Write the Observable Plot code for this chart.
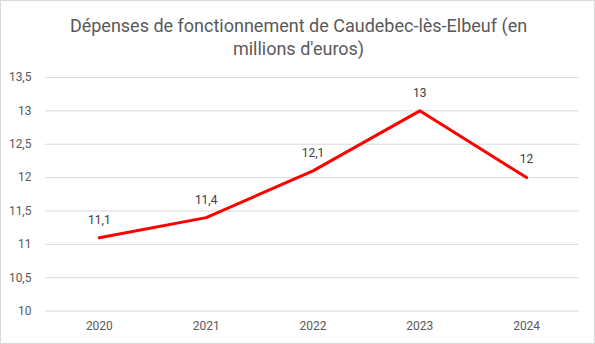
<!DOCTYPE html>
<html>
<head>
<meta charset="utf-8">
<script src="https://cdn.jsdelivr.net/npm/d3@7"></script>
<script src="https://cdn.jsdelivr.net/npm/@observablehq/plot@0.6"></script>
<style>
  html, body { margin: 0; padding: 0; background: #fff; }
  #frame { width: 595px; height: 344px; box-sizing: border-box; border: 1px solid #d9d9d9; position: relative; overflow: hidden; }
  #title { position: absolute; left: 0; top: 13px; width: 595px; text-align: center; font-family: Roboto, "Open Sans", sans-serif; font-size: 18px; line-height: 23px; color: #595959; }
  #chart { position: absolute; left: -1px; top: 64px; }
</style>
</head>
<body>
<div id="frame">
  <div id="title">Dépenses de fonctionnement de Caudebec-lès-Elbeuf (en<br>millions d'euros)</div>
  <div id="chart"></div>
</div>
<script>
const years = ["2020", "2021", "2022", "2023", "2024"];
const values = [11.1, 11.4, 12.1, 13, 12];
const yTicks = [10, 10.5, 11, 11.5, 12, 12.5, 13, 13.5];

const data = years.map((y, i) => ({year: y, value: values[i]}));
const fmt = v => String(v).replace(".", ",");

const chart = Plot.plot({
  width: 595,
  height: 280,
  marginTop: 12,
  marginBottom: 34,
  marginLeft: 45,
  marginRight: 15,
  style: {fontFamily: "Roboto, 'Open Sans', sans-serif", fontSize: "12px", color: "#595959", background: "transparent"},
  x: {type: "point", domain: years, padding: 0.5, label: null, tickSize: 0, tickPadding: 10},
  y: {domain: [10, 13.5], ticks: yTicks, label: null, tickSize: 0, tickPadding: 14, tickFormat: fmt},
  marks: [
    Plot.ruleY(yTicks, {stroke: "#d9d9d9", strokeWidth: 1}),
    Plot.line(data, {x: "year", y: "value", stroke: "#ff0000", strokeWidth: 3, strokeLinejoin: "round"}),
    Plot.text(data, {x: "year", y: "value", text: d => fmt(d.value), dy: -18, fill: "#404040", fontSize: 12})
  ]
});
document.getElementById("chart").appendChild(chart);
</script>
</body>
</html>
